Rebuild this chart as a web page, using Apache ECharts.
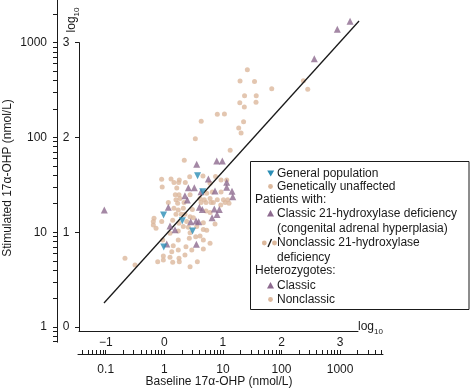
<!DOCTYPE html>
<html><head><meta charset="utf-8">
<script src="https://cdn.jsdelivr.net/npm/echarts@6/dist/echarts.min.js"></script>
<style>html,body{margin:0;padding:0;background:#fff}#c{width:473px;height:392px}</style>
</head><body><div id="c"></div>
<script>
const FONT = '"Liberation Sans", Arial, Helvetica, sans-serif';
const INK = '#1a1a1a';
const BLUE = '#2a8db5', PURPLE = '#8d6a8f', TAN = '#dcb89c';

// [baseline 17α-OHP, stimulated 17α-OHP] in nmol/L
const generalPopulation = [[3.69,39.4],[4.52,26.7],[0.97,15.2],[2.03,13.2],[3.03,10.3],[0.977,6.98]];
const classicPatients = [[0.0946,17.1],[363,676],[896,1380],[1476,1679]];
const classicHeterozygotes = [[3.57,52.0],[7.84,56.4],[9.77,56.4],[5.64,36.4],[11.6,33.6],[2.57,29.5],[3.25,29.5],[2.25,24.3],[4.23,26.7],[7.33,27.2],[11.6,29.8],[14.3,27.0],[14.7,23.7],[2.47,21.9],[1.17,18.3],[3.96,18.3],[4.45,17.4],[7.13,17.6],[8.68,17.4],[7.93,15.4],[6.52,14.2],[2.82,12.9],[3.48,13.1],[3.86,12.9],[1.25,11.6],[1.52,10.6],[1.10,7.51],[3.52,7.45]];
const nonclassicPatients = [[26.1,518],[19.6,394],[34.6,389],[68.1,326],[236,396],[280,322],[23.4,275],[37.0,275],[19.4,232],[36.7,235],[23.2,209],[8.02,175],[10.6,177],[4.26,148],[22.5,146],[18.6,126],[20.4,111],[3.38,96.9],[13.3,73.1],[2.19,57.3]];
const unaffectedAndNonclassicHet = [[0.90,36.1],[1.30,36.4],[1.80,35.5],[2.71,38.5],[1.46,33.5],[1.76,33.5],[2.28,33.5],[0.92,30.0],[1.63,29.3],[4.57,39.2],[7.48,38.7],[9.29,35.5],[11.6,35.5],[6.03,32.8],[1.54,24.9],[1.78,24.9],[2.75,24.9],[5.29,25.7],[6.59,26.5],[9.29,26.5],[1.85,22.7],[1.58,22.0],[4.07,22.7],[4.81,22.0],[6.03,22.7],[8.02,22.0],[10.2,22.0],[12.1,22.0],[1.17,20.6],[1.69,20.2],[2.17,20.6],[4.23,20.6],[5.15,20.6],[6.27,20.6],[6.86,20.6],[10.9,20.6],[9.17,19.4],[12.7,20.2],[1.46,17.9],[1.73,17.1],[2.11,17.9],[3.01,17.4],[5.15,16.7],[6.03,16.1],[1.58,15.5],[1.95,15.5],[2.25,15.5],[2.75,14.6],[3.13,14.2],[0.667,14.0],[0.649,13.0],[0.903,13.0],[1.39,13.4],[2.41,13.0],[4.63,12.6],[0.649,11.9],[0.722,11.0],[1.78,12.4],[2.11,11.5],[2.57,11.3],[3.57,11.5],[4.63,10.7],[5.29,10.5],[7.33,12.2],[1.73,10.3],[1.25,9.73],[2.75,9.89],[3.43,8.97],[4.07,9.12],[0.939,8.27],[1.73,8.27],[2.67,8.62],[4.63,8.27],[6.03,7.64],[1.42,7.21],[2.34,7.03],[4.63,6.65],[1.34,6.23],[1.73,6.49],[2.94,6.49],[0.962,5.61],[1.25,5.43],[1.78,5.30],[2.25,5.75],[0.962,5.09],[1.39,4.81],[2.75,4.33],[3.66,4.89],[0.771,4.89],[0.213,5.30],[0.316,4.51],[1.80,4.89]];
const nonclassicFit = [[0.0935,1.79],[2103,1690]];

// tick labels
const innerXTicks = [-1,0,1,2,3];
const innerYTicks = [0,1,2,3];
const outerXLabels = ['0.1','1','10','100','1000'];
const outerYLabels = ['1','10','100','1000'];
const mantissas = [1,2,3,4,5,6,7,8,9];
const decades = [-2,-1,0,1,2,3];

const lg = v => Math.log10(v);
const toLog = arr => arr.map(p => [lg(p[0]), lg(p[1])]);
const minorTicks = [];
decades.forEach(d => mantissas.forEach(m => minorTicks.push(lg(m) + d)));
const minusFmt = v => (v < 0 ? '\u2212' + Math.abs(v) : String(v));

const txt = {color: INK, fontSize: 12, fontFamily: FONT};
const axLine = {show: true, onZero: false, lineStyle: {color: INK, width: 1}};

const chart = echarts.init(document.getElementById('c'), null, {renderer: 'canvas'});

function legendText(x, y, t) {
  return {type: 'text', x: x, y: y, z: 101, style: {text: t, fill: INK, fontSize: 12, fontFamily: FONT, verticalAlign: 'middle', align: 'left'}};
}
function tri(x, y, color, down) {
  const pts = down ? [[-3.5,-3],[3.5,-3],[0,3]] : [[0,-3.5],[3.5,3],[-3.5,3]];
  return {type: 'polygon', x: x, y: y, z: 101, shape: {points: pts}, style: {fill: color}};
}
function dot(x, y) {
  return {type: 'circle', x: x, y: y, z: 101, shape: {cx: 0, cy: 0, r: 2.4}, style: {fill: TAN}};
}
const logRich = {a: {fontSize: 12, fontFamily: FONT, color: INK, fill: INK, lineHeight: 14}, b: {fontSize: 8, fontFamily: FONT, color: INK, fill: INK, verticalAlign: 'bottom', lineHeight: 18}};

chart.setOption({
  animation: false,
  grid: [
    {left: 79, top: 42.6, width: 279, height: 288.4},
    {left: 78, top: 353, width: 305, height: 1},
    {left: 57, top: 0, width: 1, height: 342.2}
  ],
  xAxis: [
    {gridIndex: 0, type: 'value', min: -1.456, max: 3.305, position: 'bottom',
     axisLine: axLine, axisTick: {show: false}, splitLine: {show: false},
     axisLabel: Object.assign({customValues: innerXTicks, margin: 6, formatter: minusFmt}, txt)},
    {gridIndex: 1, type: 'value', min: -1.473, max: 3.733, position: 'bottom',
     axisLine: axLine, splitLine: {show: false},
     axisTick: {show: true, inside: true, length: 4, customValues: minorTicks, lineStyle: {color: INK}},
     axisLabel: Object.assign({customValues: innerXTicks, margin: 10, formatter: v => outerXLabels[Math.round(v) + 1]}, txt)},
    {gridIndex: 2, type: 'value', show: false, min: 0, max: 1}
  ],
  yAxis: [
    {gridIndex: 0, type: 'value', min: -0.042, max: 3, position: 'left',
     axisLine: axLine, splitLine: {show: false},
     axisTick: {show: true, length: 4, customValues: innerYTicks, lineStyle: {color: INK}},
     axisLabel: Object.assign({customValues: innerYTicks, margin: 9.5}, txt)},
    {gridIndex: 1, type: 'value', show: false, min: 0, max: 1},
    {gridIndex: 2, type: 'value', min: -0.16, max: 3.449, position: 'left',
     axisLine: axLine, splitLine: {show: false},
     axisTick: {show: true, length: 4, customValues: minorTicks, lineStyle: {color: INK}},
     axisLabel: Object.assign({customValues: innerYTicks, margin: 10, formatter: v => outerYLabels[Math.round(v)]}, txt)}
  ],
  series: [
    {name: 'Nonclassic 21-hydroxylase deficiency (fit)', type: 'line', xAxisIndex: 0, yAxisIndex: 0, clip: false,
     data: toLog(nonclassicFit), symbol: 'none', lineStyle: {color: INK, width: 1.3}, z: 3},
    {name: 'Genetically unaffected / Nonclassic heterozygotes', type: 'scatter', clip: false,
     data: toLog(unaffectedAndNonclassicHet), symbol: 'circle', symbolSize: 5, itemStyle: {color: TAN}, z: 2},
    {name: 'Nonclassic 21-hydroxylase deficiency', type: 'scatter', clip: false,
     data: toLog(nonclassicPatients), symbol: 'circle', symbolSize: 5, itemStyle: {color: TAN}, z: 2},
    {name: 'Classic heterozygotes', type: 'scatter', clip: false,
     data: toLog(classicHeterozygotes), symbol: 'triangle', symbolSize: 7, itemStyle: {color: PURPLE}, z: 4},
    {name: 'Classic 21-hydroxylase deficiency', type: 'scatter', clip: false,
     data: toLog(classicPatients), symbol: 'triangle', symbolSize: 7, itemStyle: {color: PURPLE}, z: 4},
    {name: 'General population', type: 'scatter', clip: false,
     data: toLog(generalPopulation), symbol: 'triangle', symbolRotate: 180, symbolSize: 7, itemStyle: {color: BLUE}, z: 5}
  ],
  graphic: [
    {type: 'text', x: 8, y: 178, rotation: Math.PI / 2, style: {text: 'Stimulated 17\u03b1-OHP (nmol/L)', fill: INK, fontSize: 12, fontFamily: FONT, align: 'center', verticalAlign: 'middle'}},
    {type: 'text', x: 219, y: 382, style: {text: 'Baseline 17\u03b1-OHP (nmol/L)', fill: INK, fontSize: 12, fontFamily: FONT, align: 'center', verticalAlign: 'middle'}},
    {type: 'text', x: 72, y: 20, rotation: Math.PI / 2, style: {text: '{a|log}{b|10}', rich: logRich, fill: INK, align: 'center', verticalAlign: 'middle'}},
    {type: 'text', x: 358, y: 327, style: {text: '{a|log}{b|10}', rich: logRich, fill: INK, align: 'left', verticalAlign: 'middle'}},
    {type: 'rect', z: 100, shape: {x: 250.5, y: 161.5, width: 218.5, height: 148}, style: {fill: '#fff', stroke: INK, lineWidth: 1}},
    tri(270.7, 173.5, BLUE, true), legendText(277, 173.5, 'General population'),
    dot(270.5, 186.5), legendText(277, 186.5, 'Genetically unaffected'),
    legendText(255, 199.5, 'Patients with:'),
    tri(270.5, 213.5, PURPLE, false), legendText(277, 214, 'Classic 21-hydroxylase deficiency'),
    legendText(277, 229, '(congenital adrenal hyperplasia)'),
    dot(264.3, 243), {type: 'line', z: 101, shape: {x1: 268, y1: 247, x2: 271.5, y2: 239}, style: {stroke: INK, lineWidth: 1.4}}, dot(274.5, 243),
    legendText(277, 243, 'Nonclassic 21-hydroxylase'),
    legendText(277, 257.5, 'deficiency'),
    legendText(255, 271, 'Heterozygotes:'),
    tri(270.5, 285.5, PURPLE, false), legendText(277, 285.5, 'Classic'),
    dot(270.5, 299.5), legendText(277, 299.5, 'Nonclassic')
  ]
});
</script></body></html>
